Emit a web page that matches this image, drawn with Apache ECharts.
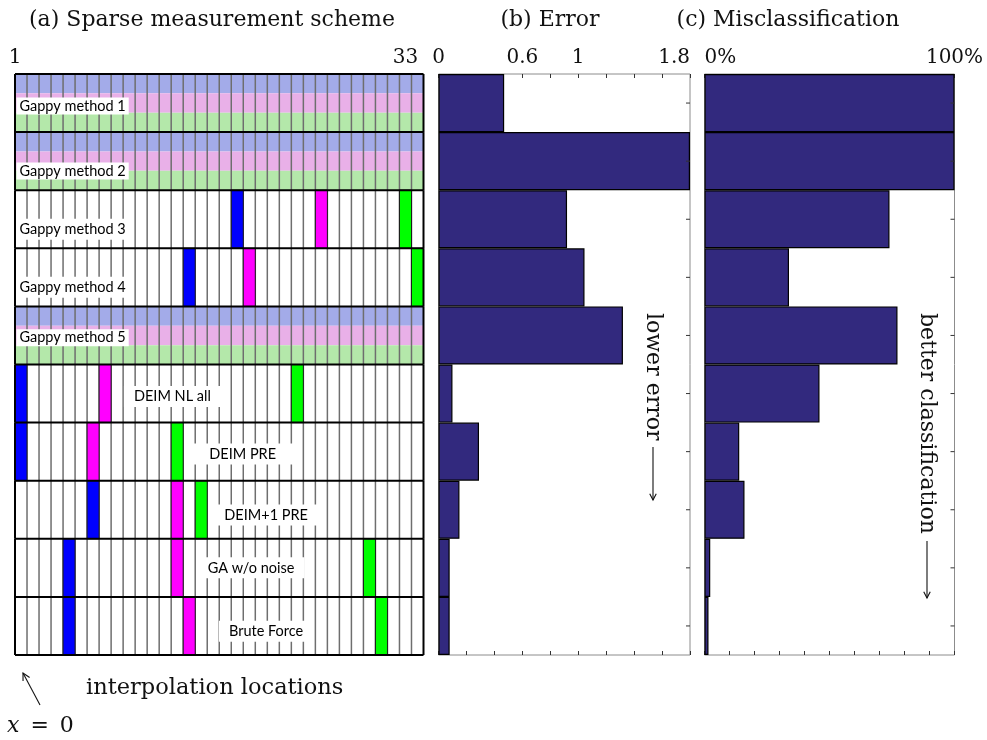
<!DOCTYPE html>
<html>
<head>
<meta charset="utf-8">
<script src="https://cdn.jsdelivr.net/npm/echarts@6/dist/echarts.min.js"></script>
<style>
  html, body { margin: 0; padding: 0; background: #fff; }
  #chart { width: 987px; height: 740px; }
</style>
</head>
<body>
<div id="chart"></div>
<script>
// ---- data -------------------------------------------------------------
const methods = ['Gappy method 1', 'Gappy method 2', 'Gappy method 3', 'Gappy method 4', 'Gappy method 5',
                 'DEIM NL all', 'DEIM PRE', 'DEIM+1 PRE', 'GA w/o noise', 'Brute Force'];
// methods that sample every location (drawn as three full-width bands)
const usesAllLocations = [true, true, false, false, true, false, false, false, false, false];
// chosen interpolation cell (0-based) for each of the three sensors
const sensorBlue    = [null, null, 18, 14, null, 0, 0, 6, 4, 4];
const sensorMagenta = [null, null, 25, 19, null, 7, 6, 13, 13, 14];
const sensorGreen   = [null, null, 32, 33, null, 23, 13, 15, 29, 30];
const errorValues     = [0.47, 1.8, 0.92, 1.045, 1.32, 0.10, 0.29, 0.15, 0.08, 0.08];
const misclassPercent = [100, 100, 74, 33.8, 77.2, 46, 13.9, 16, 2.3, 1.6];
const locationCount = 34;
const locationTickValues = [0, 32.5];
const locationTickLabels = ['1', '33'];
const errorMax = 1.8;
const errorTickLabels = [0, 0.6, 1, 1.8];
const misclassMax = 100;
const misclassTickLabels = [0, 100];

// ---- styling / layout ---------------------------------------------------
const SERIF = '"DejaVu Serif", "Liberation Serif", serif';
const SANS = 'Lato, "Open Sans", sans-serif';
const bandColors = ['#a3abe9', '#e9b0e8', '#b4e8aa'];
const sensorColors = ['#0000ff', '#ff00ff', '#00ff00'];
const barColor = '#32297e';
const frameColor = '#8c8c8c';
const tickColor = '#333';
const ink = '#111';
// where each method name sits inside its row (column value, vertical shift as row fraction)
const labelPlacement = [
  { col: 0.12, align: 'left', dy: 0.05, pad: [1, 3] },
  { col: 0.12, align: 'left', dy: 0.17, pad: [1, 3] },
  { col: 0.12, align: 'left', dy: 0.17, pad: [3, 3] },
  { col: 0.12, align: 'left', dy: 0.17, pad: [3, 3] },
  { col: 0.12, align: 'left', dy: 0.04, pad: [1, 3] },
  { col: 13.1, align: 'center', dy: 0.05, pad: [3, 10] },
  { col: 18.95, align: 'center', dy: 0.04, pad: [3, 18] },
  { col: 20.9, align: 'center', dy: 0.09, pad: [3, 10] },
  { col: 19.65, align: 'center', dy: 0.0, pad: [3, 10] },
  { col: 20.9, align: 'center', dy: 0.09, pad: [3, 10] }
];

function renderScheme(params, api) {
  const i = params.dataIndex;
  const row = api.value(1);
  const leftPt = api.coord([0, row]);
  const rightPt = api.coord([locationCount, row]);
  const rh = api.size([1, 1])[1];
  const x0 = leftPt[0], x1 = rightPt[0];
  const yTop = leftPt[1] - rh / 2, yBot = yTop + rh;
  const children = [];

  if (usesAllLocations[i]) {
    bandColors.forEach((c, b) => {
      children.push({ type: 'rect', shape: { x: x0, y: yTop + b * rh / 3, width: x1 - x0, height: rh / 3 },
                      style: { fill: c } });
    });
  }
  for (let k = 1; k < locationCount; k++) {
    const x = api.coord([k, row])[0];
    children.push({ type: 'line', shape: { x1: x, y1: yTop, x2: x, y2: yBot },
                    style: { stroke: '#6e6e6e', lineWidth: 1.5 } });
  }
  [sensorBlue, sensorMagenta, sensorGreen].forEach((arr, s) => {
    const c = arr[i];
    if (c === null) return;
    const xa = api.coord([c, row])[0], xb = api.coord([c + 1, row])[0];
    children.push({ type: 'rect', shape: { x: xa, y: yTop, width: xb - xa, height: rh },
                    style: { fill: sensorColors[s], stroke: '#1c1c1c', lineWidth: 1 } });
  });

  const lp = labelPlacement[i];
  const at = api.coord([lp.col, row]);
  children.push({ type: 'text', style: {
    text: methods[i], x: at[0], y: at[1] + lp.dy * rh, align: lp.align, verticalAlign: 'middle',
    font: '14.5px ' + SANS, fill: '#000', backgroundColor: '#fff', padding: lp.pad } });

  const edge = { stroke: '#000', lineWidth: 2 };
  children.push({ type: 'line', shape: { x1: x0, y1: yTop, x2: x1, y2: yTop }, style: edge });
  if (i === methods.length - 1) {
    children.push({ type: 'line', shape: { x1: x0, y1: yBot, x2: x1, y2: yBot }, style: edge });
  }
  children.push({ type: 'line', shape: { x1: x0, y1: yTop, x2: x0, y2: yBot }, style: edge });
  children.push({ type: 'line', shape: { x1: x1, y1: yTop, x2: x1, y2: yBot }, style: edge });
  return { type: 'group', children };
}

// short inward ticks on the right frame, one per method row
function rowTickSeries(xAxisIndex, yAxisIndex, axisMax) {
  return {
    type: 'custom', xAxisIndex, yAxisIndex, silent: true, z: 4,
    encode: { x: 0, y: 1 },
    data: methods.map((m, i) => [axisMax, i]),
    renderItem: (params, api) => {
      const pt = api.coord([api.value(0), api.value(1)]);
      return { type: 'line', shape: { x1: pt[0] - 4, y1: pt[1], x2: pt[0], y2: pt[1] },
               style: { stroke: tickColor, lineWidth: 1 } };
    }
  };
}

function pickLabel(list, fmt) {
  return v => (list.some(t => Math.abs(t - v) < 1e-6) ? fmt(v) : '');
}

const tickLabelStyle = { fontFamily: SERIF, fontSize: 20, color: ink, margin: 6 };

function valueAxis(grid, max, interval, pos, labelOpts) {
  return {
    gridIndex: grid, type: 'value', min: 0, max: max, interval: interval, position: pos,
    axisLine: { show: false },
    axisTick: { show: true, inside: true, length: 4, lineStyle: { color: tickColor } },
    splitLine: { show: false },
    axisLabel: labelOpts ? Object.assign({}, tickLabelStyle, labelOpts) : { show: false }
  };
}

function methodAxis(grid) {
  return {
    gridIndex: grid, type: 'category', data: methods, inverse: true,
    axisLine: { show: false }, axisTick: { show: false },
    axisLabel: { show: false }, splitLine: { show: false }
  };
}

// LaTeX-style arrow: straight shaft with a small open head
function arrow(tail, tip, head) {
  const dx = tip[0] - tail[0], dy = tip[1] - tail[1];
  const len = Math.hypot(dx, dy), ux = dx / len, uy = dy / len;
  const ang = Math.PI / 6.5;
  const side = a => [tip[0] - head * (ux * Math.cos(a) - uy * Math.sin(a)),
                     tip[1] - head * (ux * Math.sin(a) + uy * Math.cos(a))];
  const st = { stroke: ink, lineWidth: 1.1, fill: null };
  return [
    { type: 'polyline', shape: { points: [tail, tip] }, style: st },
    { type: 'polyline', shape: { points: [side(ang), tip, side(-ang)] }, style: st }
  ];
}

const chart = echarts.init(document.getElementById('chart'), null, { renderer: 'canvas' });

const framedGrid = { show: true, borderColor: frameColor, borderWidth: 1, backgroundColor: 'transparent' };

const option = {
  animation: false,
  backgroundColor: '#fff',
  grid: [
    { left: 15, top: 74, width: 408.5, height: 581 },
    Object.assign({ left: 438.5, top: 74, width: 251.5, height: 581 }, framedGrid),
    Object.assign({ left: 704.5, top: 74, width: 250, height: 581 }, framedGrid)
  ],
  xAxis: [
    {
      gridIndex: 0, type: 'value', min: 0, max: locationCount, position: 'top',
      axisLine: { show: false }, axisTick: { show: false }, splitLine: { show: false },
      axisLabel: Object.assign({}, tickLabelStyle, {
        customValues: locationTickValues,
        formatter: v => locationTickLabels[locationTickValues.indexOf(v)] || ''
      })
    },
    valueAxis(1, errorMax, 0.2, 'top', {
      formatter: pickLabel(errorTickLabels, v => String(Math.round(v * 10) / 10)),
      showMinLabel: true, showMaxLabel: true, alignMaxLabel: 'right'
    }),
    valueAxis(1, errorMax, 0.2, 'bottom', null),
    valueAxis(2, misclassMax, 10, 'top', {
      formatter: pickLabel(misclassTickLabels, v => Math.round(v) + '%'),
      showMinLabel: true, showMaxLabel: true, alignMinLabel: 'left'
    }),
    valueAxis(2, misclassMax, 10, 'bottom', null)
  ],
  yAxis: [
    { gridIndex: 0, type: 'category', data: methods, inverse: true, show: false },
    methodAxis(1),
    methodAxis(2)
  ],
  series: [
    {
      type: 'custom', name: 'scheme', xAxisIndex: 0, yAxisIndex: 0,
      encode: { x: 0, y: 1 },
      data: methods.map((m, i) => [0, i]),
      renderItem: renderScheme, silent: true, z: 2
    },
    {
      type: 'bar', name: 'Error', xAxisIndex: 1, yAxisIndex: 1, data: errorValues,
      barWidth: '100%', itemStyle: { color: barColor, borderColor: '#000', borderWidth: 1.2 }, z: 3
    },
    {
      type: 'bar', name: 'Misclassification', xAxisIndex: 3, yAxisIndex: 2, data: misclassPercent,
      barWidth: '100%', itemStyle: { color: barColor, borderColor: '#000', borderWidth: 1.2 }, z: 3
    },
    rowTickSeries(1, 1, errorMax),
    rowTickSeries(3, 2, misclassMax)
  ],
  graphic: (function () {
    const g = [];
    const text = (t, x, y, size, align, extra) => Object.assign({ type: 'text', x: x, y: y,
      style: { text: t, font: size + 'px ' + SERIF, fill: ink, align: align, verticalAlign: 'middle' } }, extra || {});
    g.push(text('(a) Sparse measurement scheme', 212, 20, 22, 'center'));
    g.push(text('(b) Error', 550, 20, 22, 'center'));
    g.push(text('(c) Misclassification', 788, 20, 22, 'center'));
    g.push(text('lower error', 653, 313, 22, 'left', { rotation: -Math.PI / 2 }));
    g.push(...arrow([653, 447], [653, 500], 7));
    g.push(text('better classification', 927, 313, 22, 'left', { rotation: -Math.PI / 2 }));
    g.push(...arrow([927, 541], [927, 598], 7));
    g.push(text('interpolation locations', 86, 688, 22.5, 'left'));
    g.push({ type: 'text', x: 7, y: 726, style: {
      text: '{i|x}\u2002=\u20020', align: 'left', verticalAlign: 'middle', font: '22px ' + SERIF, fill: ink,
      rich: { i: { fontStyle: 'italic', fontFamily: SERIF, fontSize: 22, fill: ink } } } });
    // pointer to the x = 0 edge of the location grid
    g.push(...arrow([40, 705], [23, 673], 8));
    return g;
  })()
};

chart.setOption(option);
</script>
</body>
</html>
